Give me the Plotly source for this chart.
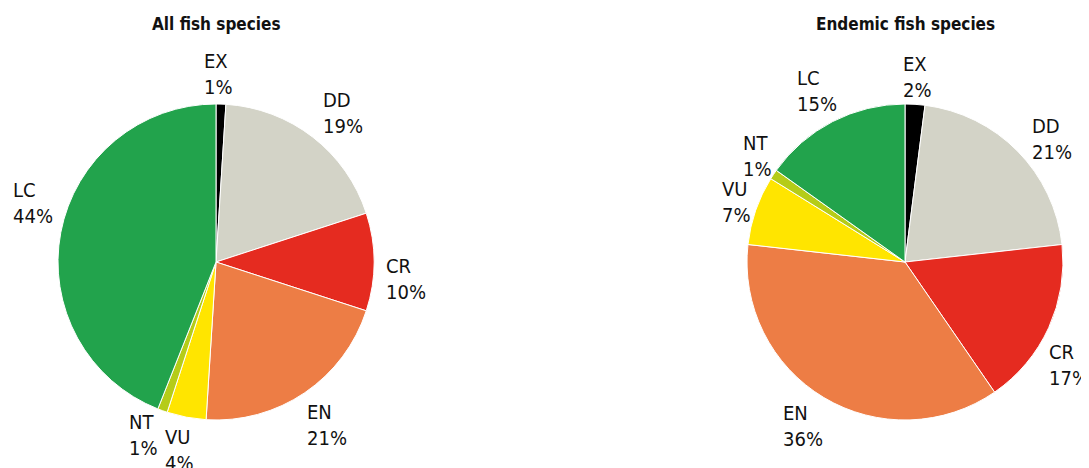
import math
import plotly.graph_objects as go

categories = ["EX", "DD", "CR", "EN", "VU", "NT", "LC"]
colors = ["#000000", "#d3d3c7", "#e52b20", "#ed7d45", "#ffe500", "#b5cc18", "#22a34c"]
all_values = [1, 19, 10, 21, 4, 1, 44]
endemic_values = [2, 21, 17, 36, 7, 1, 15]
titles = ["All fish species", "Endemic fish species"]

FONT = "DejaVu Sans Condensed"

W, H = 1089, 468
OFF = 8  # page body margin
R = 158
LABEL_D = 1.2 * R
centers = [(216 - OFF, 262 - OFF), (905 - OFF, 262 - OFF)]
# manual label nudges (pixels) per pie, like hand-placed labels in the original
nudges = [{"EX": (-3, 2), "DD": (11, 1), "CR": (0, 17), "EN": (4, 6),
           "VU": (-1, 2), "NT": (-8, -5), "LC": (3, -23)},
          {"EX": (0, 4), "DD": (12, 10), "CR": (-8, 24), "EN": (-5, 1),
           "VU": (11, 2), "NT": (10, -1), "LC": (-1, -2)}]

fig = go.Figure()
for vals, (cx, cy), nud in zip([all_values, endemic_values], centers, nudges):
    fig.add_trace(go.Pie(
        labels=categories, values=vals, textinfo="none",
        sort=False, direction="clockwise", rotation=0,
        marker=dict(colors=colors, line=dict(color="white", width=1)),
        domain=dict(x=[(cx - R) / W, (cx + R) / W],
                    y=[(H - cy - R) / H, (H - cy + R) / H]),
        showlegend=False, hoverinfo="label+percent",
    ))
    total = sum(vals)
    cum = 0
    for c, v in zip(categories, vals):
        mid = (cum + v / 2) / total * 2 * math.pi
        cum += v
        px = cx + LABEL_D * math.sin(mid)
        py = cy - LABEL_D * math.cos(mid)
        dx, dy = nud.get(c, (0, 0))
        px += dx
        py += dy
        fig.add_annotation(text=f"{c}<br>{v}%", x=px / W, y=1 - py / H,
                           xref="paper", yref="paper", showarrow=False,
                           xanchor="center", yanchor="middle", align="left",
                           font=dict(family=FONT, size=20, color="#111111"))

for t, (cx, cy) in zip(titles, centers):
    fig.add_annotation(text=f"<b>{t}</b>", x=cx / W, y=1 - (24 - OFF) / H, xref="paper", yref="paper",
                       showarrow=False, font=dict(family=FONT, size=17, color="#111111"),
                       xanchor="center", yanchor="middle")

fig.update_layout(width=W, height=H, margin=dict(l=0, r=0, t=0, b=0),
                  paper_bgcolor="white", plot_bgcolor="white")
fig.write_html("out.html")
